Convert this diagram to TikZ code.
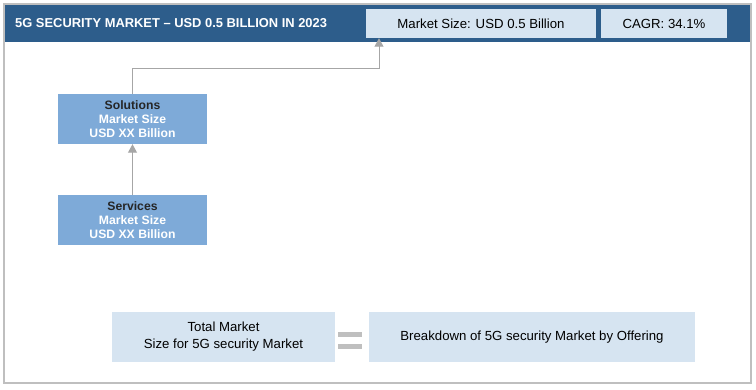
\documentclass[tikz,border=0pt]{standalone}
\usepackage{fontspec}
\setmainfont{Liberation Sans}
\usetikzlibrary{arrows.meta}
\definecolor{hdr}{HTML}{2D5D8B}
\definecolor{lite}{HTML}{D6E4F1}
\definecolor{mid}{HTML}{7EAAD8}
\definecolor{conn}{HTML}{A6A6A6}
\definecolor{frame}{HTML}{BFBFBF}
\tikzset{
  litebox/.style={fill=lite, draw=none, inner sep=0pt, align=center, font=\fontsize{13.2}{17}\selectfont},
  midbox/.style={fill=mid, draw=none, inner sep=0pt, align=center, font=\bfseries\fontsize{12.2}{14.3}\selectfont, text=white},
  conn/.style={draw=conn, line width=1pt, -{Triangle[length=8.5pt,width=9pt]}},
}
\begin{document}
\begin{tikzpicture}[x=1pt,y=-1pt]
\useasboundingbox (0,0) rectangle (756,389);
\fill[white] (0,0) rectangle (756,389);
\draw[frame, line width=2pt] (4,4) rectangle (751,383);
\fill[hdr] (5,5) rectangle (750,42);
\node[anchor=west, text=white, font=\bfseries\fontsize{12.9}{15}\selectfont, inner sep=0pt] (title) at (15,23.5) {5G SECURITY MARKET -- USD 0.5 BILLION IN 2023};
\node[litebox, minimum width=230pt, minimum height=29pt] (ms) at (481,23.5) {Market Size: USD 0.5 Billion};
\node[litebox, minimum width=126pt, minimum height=29pt] (cagr) at (664,23.5) {CAGR: 34.1\%};
\node[midbox, minimum width=149pt, minimum height=50pt] (sol) at (132.5,119) {\textcolor{black!85}{Solutions}\\Market Size\\USD XX Billion};
\node[midbox, minimum width=149pt, minimum height=50pt] (ser) at (132.5,220) {\textcolor{black!85}{Services}\\Market Size\\USD XX Billion};
\coordinate (bend1) at (132.5,68);
\coordinate (bend2) at (379,68);
\draw[conn] (ser.north) -- (sol.south);
\draw[conn] (sol.north) -- (bend1) -- (bend2) -- (bend2 |- ms.south);
\node[litebox, minimum width=223pt, minimum height=50pt] (tot) at (223.5,337) {Total Market\\Size for 5G security Market};
\node[litebox, minimum width=326pt, minimum height=50pt] (brk) at (532,337) {Breakdown of 5G security Market by Offering};
\fill[frame] (338,332) rectangle (362,337);
\fill[frame] (338,343.5) rectangle (362,349);
\end{tikzpicture}
\end{document}
